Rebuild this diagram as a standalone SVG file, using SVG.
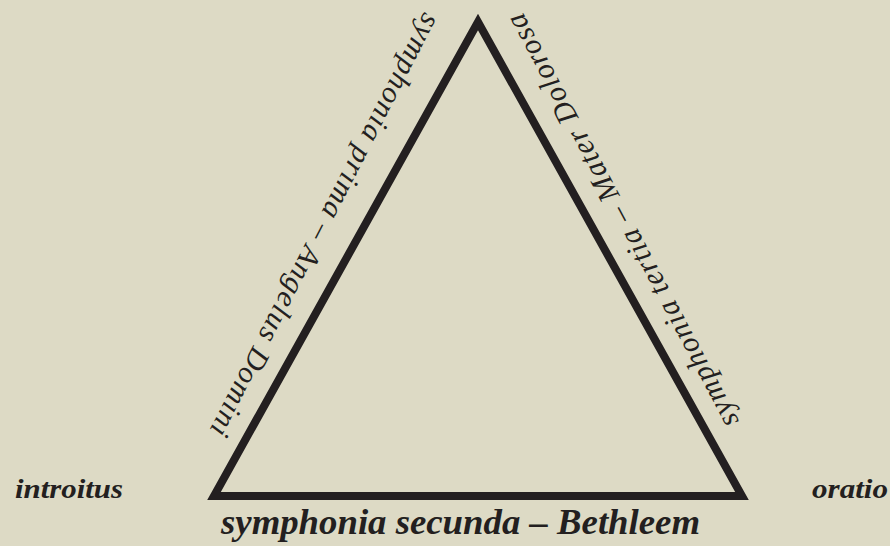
<svg xmlns="http://www.w3.org/2000/svg" width="890" height="546" viewBox="0 0 890 546">
  <style>
    .bg { fill: #dddac5; }
    .tri { fill: none; stroke: #231f20; stroke-width: 8; stroke-linejoin: miter; stroke-miterlimit: 10; }
    .side { font-family: "Liberation Serif", "DejaVu Serif", serif; font-style: italic; font-size: 30px; fill: #231f20; }
    .lab { font-family: "Liberation Serif", "DejaVu Serif", serif; font-style: italic; font-weight: bold; fill: #231f20; }
  </style>
  <rect class="bg" x="0" y="0" width="890" height="546"/>
  <g id="connectors">
    <polygon class="tri" points="478,22 214,496 742,496"/>
  </g>
  <g id="side-left">
    <text class="side" transform="translate(424.3,11.5) rotate(117.17)" x="0" y="0" textLength="471" lengthAdjust="spacing">symphonia prima – Angelus Domini</text>
  </g>
  <g id="side-right">
    <text class="side" transform="translate(739.3,421.3) rotate(-117.88)" x="0" y="0" textLength="464" lengthAdjust="spacing">symphonia tertia – Mater Dolorosa</text>
  </g>
  <g id="side-bottom">
    <text class="lab" x="221" y="534" font-size="36" textLength="479" lengthAdjust="spacingAndGlyphs">symphonia secunda – Bethleem</text>
  </g>
  <g id="introitus">
    <text class="lab" x="15" y="498" font-size="28" textLength="108" lengthAdjust="spacingAndGlyphs">introitus</text>
  </g>
  <g id="oratio">
    <text class="lab" x="812" y="498" font-size="28" textLength="76" lengthAdjust="spacingAndGlyphs">oratio</text>
  </g>
</svg>
